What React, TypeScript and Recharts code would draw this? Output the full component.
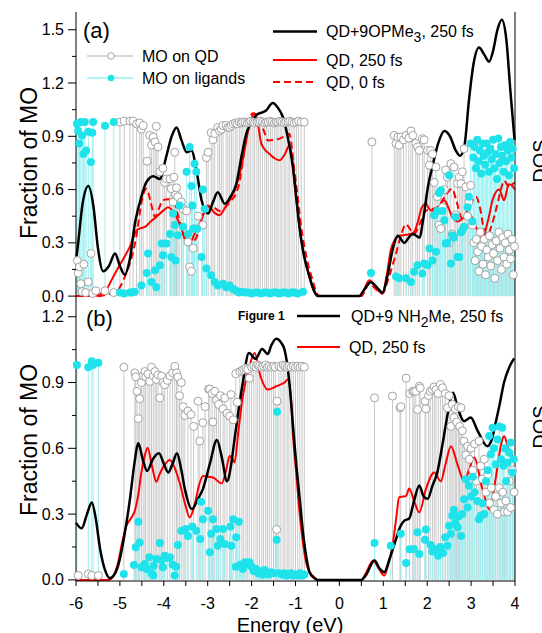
import React from 'react'
import { ComposedChart, Line, Scatter, ErrorBar, XAxis, YAxis } from 'recharts'

type Pt = [number, number]

// ---- axes ----
const X_TICKS = [-6, -5.5, -5, -4.5, -4, -3.5, -3, -2.5, -2, -1.5, -1, -0.5, 0, 0.5, 1, 1.5, 2, 2.5, 3, 3.5, 4]
const X_LABELS = [-6, -5, -4, -3, -2, -1, 0, 1, 2, 3, 4]
const Y_TICKS_A = [0, 0.15, 0.3, 0.45, 0.6, 0.75, 0.9, 1.05, 1.2, 1.35, 1.5]
const Y_LABELS_A = [0, 0.3, 0.6, 0.9, 1.2, 1.5]
const Y_TICKS_B = [0, 0.15, 0.3, 0.45, 0.6, 0.75, 0.9, 1.05, 1.2]
const Y_LABELS_B = [0, 0.3, 0.6, 0.9, 1.2]

// ---- panel (a): QD + 9 OPMe3 ----
const QD_A: Pt[] = [
  [-5.97, 0.2], [-5.95, 0.13], [-5.92, 0.165], [-5.89, 0.07], [-5.86, 0.025], [-5.82, 0.18], [-5.78, 0.02],
  [-5.72, 0.08], [-5.66, 0.24], [-5.62, 0.015], [-5.55, 0.03], [-5.34, 0.03], [-5.14, 0.02],
  [-5.0, 0.98], [-4.9, 0.985], [-4.77, 0.986], [-4.7, 0.986], [-4.62, 0.97], [-4.55, 0.975], [-4.51, 0.94],
  [-4.47, 0.96], [-4.38, 0.76], [-4.32, 0.905], [-4.28, 0.85], [-4.24, 0.896], [-4.2, 0.868], [-4.17, 0.956],
  [-4.13, 0.84], [-4.09, 0.7], [-4.02, 0.72], [-3.98, 0.64], [-3.94, 0.66], [-3.86, 0.66], [-3.83, 0.605],
  [-3.79, 0.53], [-3.77, 0.67], [-3.75, 0.81], [-3.73, 0.57], [-3.71, 0.61], [-3.68, 0.56], [-3.6, 0.53],
  [-3.56, 0.49], [-3.48, 0.48], [-3.45, 0.305], [-3.41, 0.165], [-3.37, 0.14], [-3.33, 0.27], [-3.3, 0.38],
  [-3.22, 0.45], [-3.11, 0.4], [-3.03, 0.78], [-2.99, 0.81], [-2.92, 0.92], [-2.88, 0.88], [-2.84, 0.915],
  [-2.77, 0.95], [-2.73, 0.93], [-2.69, 0.94], [-2.65, 0.96], [-2.58, 0.96], [-2.54, 0.95], [-2.5, 0.95],
  [-2.46, 0.96], [-2.42, 0.97], [-2.37, 0.975], [-2.33, 0.97], [-2.28, 0.98], [-2.24, 0.975], [-2.2, 0.98],
  [-2.15, 0.98], [-2.1, 0.975], [-2.06, 0.98], [-2.02, 0.985], [-1.97, 0.98], [-1.93, 0.975], [-1.88, 0.98],
  [-1.84, 0.98], [-1.8, 0.985], [-1.75, 0.98], [-1.7, 0.975], [-1.66, 0.98], [-1.62, 0.98], [-1.57, 0.985],
  [-1.53, 0.98], [-1.48, 0.975], [-1.44, 0.98], [-1.4, 0.98], [-1.35, 0.985], [-1.31, 0.98], [-1.26, 0.975],
  [-1.22, 0.98], [-1.17, 0.98], [-1.13, 0.985], [-1.08, 0.98], [-1.03, 0.975], [-0.98, 0.98], [-0.93, 0.985],
  [-0.87, 0.98], [-0.8, 0.98],
  [0.74, 0.868], [1.25, 0.905], [1.29, 0.86], [1.33, 0.896], [1.36, 0.85], [1.4, 0.896], [1.46, 0.88],
  [1.52, 0.905], [1.58, 0.89], [1.63, 0.93], [1.67, 0.905], [1.74, 0.86], [1.78, 0.84], [1.82, 0.82],
  [1.89, 0.887], [1.93, 0.88], [2.01, 0.82], [2.05, 0.737], [2.08, 0.82], [2.12, 0.8], [2.16, 0.64],
  [2.2, 0.727], [2.23, 0.56], [2.27, 0.4], [2.31, 0.38], [2.35, 0.5], [2.39, 0.6], [2.42, 0.71], [2.46, 0.67],
  [2.5, 0.3], [2.54, 0.746], [2.57, 0.35], [2.61, 0.727], [2.65, 0.456], [2.69, 0.634], [2.73, 0.67],
  [2.77, 0.634], [2.8, 0.7], [2.84, 0.83], [2.88, 0.615], [2.92, 0.45], [2.95, 0.53], [2.99, 0.624],
  [3.03, 0.4], [3.06, 0.3], [3.09, 0.2], [3.12, 0.32], [3.15, 0.25], [3.18, 0.14], [3.21, 0.36], [3.24, 0.28],
  [3.27, 0.18], [3.3, 0.32], [3.33, 0.12], [3.36, 0.26], [3.39, 0.22], [3.42, 0.34], [3.45, 0.17], [3.48, 0.29],
  [3.51, 0.24], [3.54, 0.1], [3.57, 0.31], [3.6, 0.2], [3.63, 0.36], [3.66, 0.27], [3.69, 0.15], [3.72, 0.33],
  [3.75, 0.22], [3.78, 0.3], [3.81, 0.18], [3.84, 0.35], [3.87, 0.26], [3.9, 0.21], [3.93, 0.32], [3.96, 0.12],
  [3.99, 0.28],
]

const LIG_A: Pt[] = [
  [-5.98, 0.97], [-5.95, 0.93], [-5.92, 0.86], [-5.89, 0.98], [-5.86, 0.905], [-5.83, 0.8], [-5.8, 0.98],
  [-5.77, 0.82], [-5.72, 0.925], [-5.66, 0.755], [-5.63, 0.92], [-5.61, 0.98], [-5.34, 0.96], [-5.14, 0.98],
  [-5.0, 0.02], [-4.9, 0.015], [-4.77, 0.02], [-4.73, 0.02], [-4.66, 0.025], [-4.51, 0.06], [-4.39, 0.13],
  [-4.36, 0.24], [-4.28, 0.08], [-4.2, 0.146], [-4.17, 0.05], [-4.09, 0.174], [-4.05, 0.296], [-4.02, 0.23],
  [-3.94, 0.296], [-3.86, 0.35], [-3.83, 0.22], [-3.79, 0.465], [-3.75, 0.4], [-3.73, 0.2], [-3.68, 0.343],
  [-3.64, 0.51], [-3.56, 0.39], [-3.48, 0.7], [-3.45, 0.35], [-3.41, 0.84], [-3.37, 0.62], [-3.35, 0.51],
  [-3.33, 0.38], [-3.3, 0.746], [-3.26, 0.7], [-3.24, 0.38], [-3.14, 0.22], [-3.11, 0.6], [-3.07, 0.49],
  [-3.03, 0.156], [-2.92, 0.118], [-2.84, 0.08], [-2.77, 0.06], [-2.65, 0.07], [-2.58, 0.05], [-2.5, 0.06],
  [-2.42, 0.04], [-2.35, 0.03], [-2.28, 0.02], [-2.21, 0.025], [-2.14, 0.02], [-2.07, 0.02], [-2.0, 0.015],
  [-1.93, 0.02], [-1.86, 0.02], [-1.79, 0.015], [-1.72, 0.02], [-1.65, 0.02], [-1.58, 0.015], [-1.51, 0.02],
  [-1.44, 0.02], [-1.37, 0.015], [-1.3, 0.02], [-1.23, 0.02], [-1.16, 0.015], [-1.09, 0.02], [-1.02, 0.02],
  [-0.95, 0.015], [-0.83, 0.024],
  [0.72, 0.13], [1.29, 0.11], [1.36, 0.1], [1.52, 0.1], [1.63, 0.08], [1.7, 0.137], [1.78, 0.174], [1.89, 0.128],
  [1.93, 0.184], [2.01, 0.174], [2.05, 0.268], [2.12, 0.2], [2.16, 0.456], [2.2, 0.25], [2.23, 0.48],
  [2.27, 0.58], [2.31, 0.596], [2.35, 0.48], [2.39, 0.427], [2.42, 0.296], [2.46, 0.3], [2.5, 0.68],
  [2.54, 0.184], [2.57, 0.343], [2.61, 0.33], [2.65, 0.446], [2.69, 0.22], [2.73, 0.22], [2.77, 0.36],
  [2.8, 0.37], [2.84, 0.39], [2.92, 0.5], [2.95, 0.56], [2.99, 0.86],
  [3.03, 0.42], [3.05, 0.78], [3.08, 0.84], [3.11, 0.72], [3.14, 0.88], [3.17, 0.76], [3.2, 0.82], [3.23, 0.69],
  [3.26, 0.86], [3.29, 0.79], [3.32, 0.74], [3.35, 0.86], [3.38, 0.81], [3.41, 0.7], [3.44, 0.83], [3.47, 0.77],
  [3.5, 0.88], [3.53, 0.72], [3.56, 0.8], [3.59, 0.66], [3.62, 0.887], [3.65, 0.75], [3.68, 0.84], [3.71, 0.79],
  [3.74, 0.7], [3.77, 0.85], [3.8, 0.76], [3.83, 0.82], [3.86, 0.68], [3.89, 0.868], [3.92, 0.78], [3.95, 0.83],
  [3.98, 0.72],
]

const DOS_A_LIG: Pt[] = [
  [-6.0, 0.2], [-5.95, 0.3], [-5.85, 0.52], [-5.72, 0.62], [-5.6, 0.5], [-5.5, 0.27], [-5.38, 0.14], [-5.25, 0.17],
  [-5.11, 0.24], [-5.0, 0.17], [-4.89, 0.12], [-4.78, 0.2], [-4.65, 0.42], [-4.51, 0.56], [-4.4, 0.64],
  [-4.24, 0.675], [-4.09, 0.66], [-3.95, 0.78], [-3.82, 0.9], [-3.71, 0.95], [-3.6, 0.88], [-3.48, 0.81],
  [-3.37, 0.82], [-3.25, 0.7], [-3.14, 0.54], [-2.99, 0.465], [-2.88, 0.53], [-2.77, 0.585], [-2.61, 0.52],
  [-2.48, 0.56], [-2.35, 0.63], [-2.22, 0.8], [-2.12, 0.915], [-2.0, 0.98], [-1.89, 1.02], [-1.67, 1.045],
  [-1.52, 1.087], [-1.4, 1.06], [-1.29, 1.01], [-1.18, 0.9], [-1.06, 0.73], [-0.91, 0.39], [-0.8, 0.22],
  [-0.68, 0.11], [-0.58, 0.03], [-0.49, 0], [0.0, 0], [0.45, 0], [0.55, 0.03], [0.72, 0.08], [0.85, 0.05],
  [0.98, 0.02], [1.1, 0.12], [1.22, 0.27], [1.33, 0.34], [1.48, 0.3], [1.58, 0.33], [1.67, 0.35], [1.75, 0.34],
  [1.82, 0.33], [1.92, 0.45], [2.02, 0.62], [2.12, 0.73], [2.25, 0.86], [2.39, 0.93], [2.52, 0.9], [2.65, 0.82],
  [2.75, 0.79], [2.85, 0.85], [2.95, 1.1], [3.05, 1.3], [3.18, 1.4], [3.3, 1.36], [3.41, 1.32], [3.5, 1.38],
  [3.6, 1.5], [3.7, 1.556], [3.8, 1.45], [3.9, 1.14], [3.99, 0.88],
]

const DOS_A_QD250: Pt[] = [
  [-6.0, 0], [-5.6, 0], [-5.45, 0.01], [-5.3, 0.04], [-5.17, 0.1], [-5.07, 0.146], [-4.92, 0.21], [-4.77, 0.28],
  [-4.62, 0.37], [-4.5, 0.385], [-4.43, 0.39], [-4.3, 0.42], [-4.17, 0.446], [-4.02, 0.48], [-3.9, 0.5],
  [-3.8, 0.48], [-3.71, 0.446], [-3.55, 0.35], [-3.41, 0.3], [-3.3, 0.35], [-3.18, 0.41], [-3.08, 0.47],
  [-2.99, 0.51], [-2.85, 0.47], [-2.73, 0.456], [-2.6, 0.5], [-2.5, 0.54], [-2.38, 0.6], [-2.27, 0.69],
  [-2.16, 0.82], [-2.08, 0.93], [-1.99, 1.01], [-1.93, 1.03], [-1.85, 0.96], [-1.78, 0.86], [-1.68, 0.82],
  [-1.59, 0.8], [-1.47, 0.775], [-1.36, 0.765], [-1.24, 0.8], [-1.14, 0.85], [-1.08, 0.78], [-1.02, 0.63],
  [-0.94, 0.46], [-0.87, 0.315], [-0.75, 0.17], [-0.64, 0.07], [-0.55, 0.02], [-0.48, 0], [0.0, 0], [0.45, 0],
  [0.55, 0.03], [0.68, 0.09], [0.82, 0.05], [0.98, 0.015], [1.08, 0.12], [1.17, 0.26], [1.27, 0.32],
  [1.36, 0.34], [1.52, 0.345], [1.62, 0.35], [1.7, 0.36], [1.8, 0.43], [1.88, 0.5], [1.97, 0.52], [2.05, 0.49],
  [2.12, 0.48], [2.25, 0.5], [2.39, 0.54], [2.48, 0.5], [2.57, 0.446], [2.7, 0.42], [2.82, 0.44], [2.95, 0.465],
  [3.08, 0.41], [3.18, 0.35], [3.26, 0.33], [3.38, 0.42], [3.5, 0.55], [3.64, 0.6], [3.75, 0.54], [3.86, 0.63],
  [3.94, 0.62], [4.0, 0.6],
]

const DOS_A_QD0: Pt[] = [
  [-6.0, 0], [-5.5, 0], [-5.3, 0.01], [-5.15, 0.02], [-5.0, 0.05], [-4.87, 0.12], [-4.73, 0.22], [-4.63, 0.33],
  [-4.55, 0.465], [-4.47, 0.57], [-4.39, 0.605], [-4.3, 0.53], [-4.2, 0.446], [-4.1, 0.5], [-4.02, 0.54],
  [-3.9, 0.545], [-3.79, 0.54], [-3.68, 0.46], [-3.55, 0.34], [-3.45, 0.287], [-3.35, 0.3], [-3.26, 0.33],
  [-3.15, 0.42], [-3.03, 0.5], [-2.88, 0.5], [-2.73, 0.48], [-2.6, 0.5], [-2.46, 0.54], [-2.35, 0.58],
  [-2.27, 0.65], [-2.2, 0.76], [-2.12, 0.9], [-2.05, 0.99], [-1.98, 1.03], [-1.9, 1.02], [-1.82, 0.99],
  [-1.72, 0.93], [-1.63, 0.877], [-1.5, 0.88], [-1.36, 0.887], [-1.25, 0.9], [-1.14, 0.915], [-1.1, 0.87],
  [-1.06, 0.78], [-0.96, 0.58], [-0.87, 0.39], [-0.75, 0.22], [-0.61, 0.09], [-0.52, 0.02], [-0.45, 0],
  [0.0, 0], [0.5, 0], [0.58, 0.03], [0.68, 0.075], [0.82, 0.04], [0.98, 0.015], [1.12, 0.1], [1.22, 0.18],
  [1.29, 0.24], [1.4, 0.34], [1.52, 0.405], [1.6, 0.38], [1.7, 0.35], [1.82, 0.4], [1.97, 0.48], [2.1, 0.49],
  [2.23, 0.5], [2.4, 0.56], [2.57, 0.605], [2.66, 0.54], [2.8, 0.437], [2.95, 0.5], [3.11, 0.56], [3.2, 0.5],
  [3.28, 0.39], [3.37, 0.343], [3.47, 0.4], [3.56, 0.48], [3.66, 0.58], [3.75, 0.65], [3.86, 0.615],
  [3.94, 0.63], [4.0, 0.64],
]

// ---- panel (b): QD + 9 NH2Me ----
const QD_B: Pt[] = [
  [-5.95, 0.02], [-5.72, 0.027], [-5.64, 0.02], [-5.49, 0.02],
  [-4.91, 0.97], [-4.66, 0.944], [-4.64, 0.926], [-4.61, 0.86], [-4.58, 0.735], [-4.55, 0.826], [-4.51, 0.9],
  [-4.47, 0.93], [-4.43, 0.95], [-4.41, 0.926], [-4.36, 0.94], [-4.32, 0.905], [-4.28, 0.97], [-4.24, 0.93],
  [-4.2, 0.95], [-4.17, 0.914], [-4.13, 0.935], [-4.09, 0.83], [-4.05, 0.93], [-4.02, 0.9], [-3.98, 0.89],
  [-3.92, 0.91], [-3.86, 0.93], [-3.8, 0.945], [-3.75, 0.974], [-3.71, 0.944], [-3.68, 0.925], [-3.64, 0.84],
  [-3.6, 0.9], [-3.56, 0.79], [-3.52, 0.75], [-3.45, 0.77], [-3.38, 0.754], [-3.32, 0.7], [-3.22, 0.815],
  [-3.18, 0.633], [-3.11, 0.717], [-3.06, 0.79], [-2.98, 0.87], [-2.95, 0.87], [-2.9, 0.85], [-2.88, 0.72],
  [-2.84, 0.86], [-2.8, 0.82], [-2.75, 0.8], [-2.71, 0.84], [-2.65, 0.78], [-2.61, 0.83], [-2.56, 0.76],
  [-2.5, 0.747], [-2.47, 0.845], [-2.42, 0.73], [-2.36, 0.94], [-2.33, 0.81], [-2.27, 0.95], [-2.22, 0.955],
  [-2.18, 0.96], [-2.13, 0.965], [-2.09, 0.96], [-2.05, 0.92], [-2.0, 0.97], [-1.95, 0.975], [-1.9, 0.97],
  [-1.86, 0.98], [-1.82, 0.975], [-1.77, 0.97], [-1.73, 0.975], [-1.68, 0.98], [-1.64, 0.97], [-1.6, 0.975],
  [-1.55, 0.97], [-1.5, 0.975], [-1.46, 0.97], [-1.43, 0.23], [-1.42, 0.815], [-1.38, 0.975], [-1.33, 0.97],
  [-1.28, 0.98], [-1.24, 0.975], [-1.19, 0.97], [-1.15, 0.975], [-1.1, 0.97], [-1.05, 0.975], [-1.0, 0.97],
  [-0.95, 0.975], [-0.9, 0.97], [-0.85, 0.975], [-0.8, 0.97],
  [0.8, 0.83], [1.21, 0.838], [1.38, 0.785], [1.4, 0.79], [1.52, 0.92], [1.6, 0.85], [1.67, 0.86], [1.7, 0.86],
  [1.74, 0.86], [1.78, 0.777], [1.82, 0.883], [1.84, 0.875], [1.95, 0.815], [1.97, 0.78], [2.03, 0.84],
  [2.07, 0.86], [2.12, 0.868], [2.16, 0.88], [2.2, 0.868], [2.25, 0.85], [2.3, 0.89], [2.35, 0.876],
  [2.41, 0.85], [2.46, 0.785], [2.5, 0.84], [2.54, 0.7], [2.57, 0.8], [2.61, 0.74], [2.64, 0.78], [2.67, 0.72],
  [2.71, 0.79], [2.74, 0.7], [2.77, 0.785], [2.8, 0.68], [2.84, 0.633], [2.88, 0.57], [2.92, 0.61], [2.96, 0.55],
  [3.0, 0.6], [3.04, 0.5], [3.08, 0.62], [3.12, 0.45], [3.18, 0.633], [3.22, 0.52], [3.26, 0.46], [3.3, 0.55],
  [3.34, 0.4], [3.38, 0.48], [3.42, 0.35], [3.46, 0.42], [3.52, 0.32], [3.56, 0.38], [3.6, 0.3], [3.64, 0.42],
  [3.68, 0.35], [3.72, 0.4], [3.76, 0.31], [3.79, 0.36], [3.83, 0.31], [3.87, 0.45], [3.9, 0.33], [3.94, 0.5],
  [3.98, 0.4],
]

const LIG_B: Pt[] = [
  [-5.98, 0.98], [-5.72, 0.97], [-5.64, 0.997], [-5.61, 0.98], [-5.49, 0.99],
  [-4.91, 0.027], [-4.68, 0.068], [-4.64, 0.149], [-4.58, 0.265], [-4.55, 0.17], [-4.51, 0.058], [-4.43, 0.073],
  [-4.39, 0.05], [-4.33, 0.103], [-4.28, 0.03], [-4.24, 0.02], [-4.23, 0.065], [-4.17, 0.095], [-4.09, 0.168],
  [-4.05, 0.09], [-4.02, 0.058], [-3.98, 0.11], [-3.92, 0.1], [-3.86, 0.103], [-3.8, 0.07], [-3.75, 0.02],
  [-3.72, 0.06], [-3.68, 0.159], [-3.6, 0.224], [-3.5, 0.232], [-3.45, 0.2], [-3.35, 0.244], [-3.26, 0.224],
  [-3.17, 0.186], [-3.15, 0.356], [-3.11, 0.277], [-2.99, 0.315], [-2.95, 0.126], [-2.92, 0.21], [-2.88, 0.277],
  [-2.8, 0.232], [-2.77, 0.156], [-2.71, 0.186], [-2.65, 0.232], [-2.61, 0.164], [-2.48, 0.244], [-2.46, 0.156],
  [-2.42, 0.277], [-2.36, 0.06], [-2.35, 0.194], [-2.29, 0.265], [-2.25, 0.07], [-2.2, 0.05], [-2.15, 0.08],
  [-2.1, 0.07], [-2.05, 0.08], [-2.0, 0.06], [-1.95, 0.04], [-1.9, 0.05], [-1.85, 0.03], [-1.8, 0.04],
  [-1.75, 0.025], [-1.7, 0.045], [-1.65, 0.03], [-1.6, 0.025], [-1.55, 0.035], [-1.5, 0.03], [-1.43, 0.183],
  [-1.42, 0.767], [-1.38, 0.03], [-1.3, 0.025], [-1.25, 0.03], [-1.2, 0.02], [-1.15, 0.025], [-1.1, 0.03],
  [-1.05, 0.02], [-1.0, 0.025], [-0.95, 0.02], [-0.9, 0.03], [-0.85, 0.02], [-0.8, 0.025],
  [0.8, 0.168], [1.17, 0.156], [1.4, 0.21], [1.52, 0.077], [1.6, 0.14], [1.7, 0.141], [1.78, 0.217],
  [1.82, 0.118], [1.95, 0.183], [1.97, 0.23], [2.08, 0.159], [2.12, 0.13], [2.2, 0.14], [2.25, 0.11], [2.3, 0.15],
  [2.36, 0.123], [2.41, 0.194], [2.46, 0.156], [2.5, 0.247], [2.54, 0.21], [2.57, 0.292], [2.61, 0.32],
  [2.64, 0.26], [2.69, 0.24], [2.72, 0.29], [2.77, 0.2], [2.8, 0.3], [2.84, 0.368], [2.88, 0.459], [2.92, 0.33],
  [2.95, 0.429], [3.0, 0.38], [3.04, 0.47], [3.08, 0.4], [3.14, 0.36], [3.18, 0.277], [3.22, 0.292], [3.26, 0.35],
  [3.3, 0.3], [3.34, 0.45], [3.38, 0.5], [3.41, 0.656], [3.45, 0.573], [3.49, 0.694], [3.52, 0.6], [3.56, 0.527],
  [3.6, 0.64], [3.64, 0.7], [3.68, 0.55], [3.71, 0.694], [3.74, 0.52], [3.77, 0.6], [3.8, 0.45], [3.83, 0.535],
  [3.87, 0.58], [3.9, 0.626], [3.94, 0.49], [3.97, 0.55],
]

const DOS_B_LIG: Pt[] = [
  [-6.0, 0.26], [-5.87, 0.235], [-5.75, 0.3], [-5.64, 0.353], [-5.55, 0.28], [-5.45, 0.14], [-5.33, 0.04],
  [-5.23, 0.008], [-5.14, 0.02], [-5.04, 0.065], [-4.9, 0.2], [-4.77, 0.37], [-4.67, 0.53], [-4.58, 0.623],
  [-4.48, 0.55], [-4.38, 0.497], [-4.25, 0.55], [-4.11, 0.577], [-4.0, 0.53], [-3.9, 0.49], [-3.8, 0.53],
  [-3.7, 0.577], [-3.6, 0.5], [-3.52, 0.414], [-3.36, 0.323], [-3.22, 0.37], [-3.11, 0.414], [-2.95, 0.53],
  [-2.79, 0.638], [-2.68, 0.56], [-2.56, 0.45], [-2.47, 0.52], [-2.39, 0.64], [-2.3, 0.77], [-2.2, 0.9],
  [-2.06, 1.035], [-1.91, 1.008], [-1.76, 1.053], [-1.63, 1.03], [-1.55, 1.07], [-1.44, 1.1], [-1.32, 1.08],
  [-1.25, 1.05], [-1.14, 0.9], [-1.06, 0.71], [-0.98, 0.52], [-0.9, 0.36], [-0.83, 0.217], [-0.75, 0.1],
  [-0.68, 0.035], [-0.57, 0.008], [-0.5, 0], [0.0, 0], [0.5, 0], [0.6, 0.02], [0.8, 0.088], [0.92, 0.05],
  [1.02, 0.035], [1.15, 0.1], [1.29, 0.186], [1.38, 0.24], [1.48, 0.27], [1.59, 0.28], [1.7, 0.36], [1.82, 0.43],
  [1.92, 0.38], [2.01, 0.37], [2.12, 0.43], [2.23, 0.49], [2.35, 0.62], [2.48, 0.77], [2.59, 0.853], [2.7, 0.78],
  [2.84, 0.724], [2.99, 0.74], [3.15, 0.68], [3.37, 0.61], [3.47, 0.64], [3.56, 0.717], [3.65, 0.8], [3.75, 0.9],
  [3.87, 0.97], [3.98, 1.01],
]

const DOS_B_QD250: Pt[] = [
  [-6.0, 0], [-5.3, 0], [-5.2, 0.005], [-5.1, 0.04], [-5.04, 0.08], [-4.95, 0.17], [-4.85, 0.247], [-4.75, 0.28],
  [-4.66, 0.315], [-4.58, 0.39], [-4.51, 0.49], [-4.44, 0.56], [-4.37, 0.603], [-4.27, 0.52], [-4.17, 0.447],
  [-4.1, 0.48], [-4.02, 0.512], [-3.86, 0.547], [-3.75, 0.51], [-3.64, 0.444], [-3.52, 0.35], [-3.41, 0.285],
  [-3.3, 0.34], [-3.2, 0.43], [-3.11, 0.474], [-2.98, 0.47], [-2.88, 0.467], [-2.68, 0.44], [-2.58, 0.5],
  [-2.5, 0.565], [-2.43, 0.55], [-2.39, 0.535], [-2.3, 0.68], [-2.2, 0.838], [-2.05, 0.974], [-1.93, 1.035],
  [-1.8, 0.93], [-1.63, 0.868], [-1.44, 0.883], [-1.25, 0.9], [-1.17, 0.914], [-1.1, 0.82], [-1.06, 0.67],
  [-0.98, 0.48], [-0.91, 0.31], [-0.83, 0.17], [-0.76, 0.08], [-0.66, 0.03], [-0.57, 0.012], [-0.5, 0], [0.0, 0],
  [0.5, 0], [0.6, 0.03], [0.77, 0.088], [0.9, 0.05], [1.02, 0.02], [1.1, 0.06], [1.21, 0.156], [1.3, 0.29],
  [1.36, 0.376], [1.45, 0.38], [1.52, 0.383], [1.59, 0.417], [1.7, 0.36], [1.82, 0.308], [1.97, 0.414],
  [2.16, 0.49], [2.31, 0.45], [2.42, 0.53], [2.54, 0.61], [2.7, 0.52], [2.84, 0.45], [2.95, 0.5], [3.07, 0.558],
  [3.25, 0.42], [3.43, 0.32], [3.55, 0.45], [3.71, 0.64], [3.75, 0.656], [3.85, 0.6], [3.98, 0.55],
]

const FONT = "'Liberation Sans', Arial, sans-serif"
const GREY_STEM = '#c9c9c9'
const GREY_RING = '#a3a3a3'
const CYAN_STEM = '#9af1f3'
const CYAN_DOT = '#1fe2ea'

const rows = (pts: Pt[]) => pts.map(([e, v]) => ({ e, v, stem: [v, 0] }))

const near = (list: number[], v: number) => list.some((m) => Math.abs(m - v) < 1e-6)

const yTick = (labels: number[]) => (p: any) => {
  const v = p.payload.value
  const major = near(labels, v)
  return (
    <g>
      <line x1={p.x} x2={p.x - (major ? 8 : 4)} y1={p.y} y2={p.y} stroke="#000" />
      {major && (
        <text x={p.x - 12} y={p.y} dy={5.5} textAnchor="end" fontSize={16} fill="#000">
          {v.toFixed(1)}
        </text>
      )}
    </g>
  )
}

const xTickBottom = (p: any) => {
  const v = p.payload.value
  const major = near(X_LABELS, v)
  return (
    <g>
      <line x1={p.x} x2={p.x} y1={p.y} y2={p.y + 5} stroke="#000" />
      {major && (
        <text x={p.x} y={p.y + 28} textAnchor="middle" fontSize={16} fill="#000">
          {String(v)}
        </text>
      )}
    </g>
  )
}

const xTickInner = (p: any) => {
  const major = near(X_LABELS, p.payload.value)
  return <line x1={p.x} x2={p.x} y1={p.y} y2={p.y + (major ? 8 : 4)} stroke="#000" />
}

const ring = (p: any) => <circle cx={p.cx} cy={p.cy} r={4} fill="#fff" stroke={GREY_RING} strokeWidth={1} />
const dot = (p: any) => <circle cx={p.cx} cy={p.cy} r={4} fill={CYAN_DOT} />
const none = () => <g />

type Curve = { pts: Pt[]; color: string; width: number; dash?: string }

function panel(o: {
  qd: Pt[]; lig: Pt[]; curves: Curve[]; yMax: number; yTicks: number[]; yLabels: number[]
  height: number; margin: { top: number; right: number; bottom: number; left: number }; bottom: boolean
}) {
  const dom: [number, number] = [-0.005, o.yMax]
  const qd = rows(o.qd)
  const lig = rows(o.lig)
  return (
    <ComposedChart width={542} height={o.height} margin={o.margin}>
      <XAxis
        xAxisId="b" dataKey="e" type="number" domain={[-6, 4]} ticks={X_TICKS} interval={0}
        hide={!o.bottom} height={52} tickSize={0} tickMargin={0} tickLine={false}
        tick={xTickBottom} axisLine={{ stroke: '#000' }}
      />
      <XAxis
        xAxisId="t" orientation="top" type="number" domain={[-6, 4]} ticks={X_TICKS} interval={0}
        height={0} tickSize={0} tickMargin={0} tickLine={false}
        tick={o.bottom ? xTickInner : false} axisLine={{ stroke: '#000' }}
      />
      <YAxis
        yAxisId="frac" dataKey="v" type="number" domain={dom} ticks={o.yTicks} interval={0} width={76}
        tickSize={0} tickMargin={0} tickLine={false} tick={yTick(o.yLabels)} axisLine={{ stroke: '#000' }}
      />
      <YAxis
        yAxisId="dos" orientation="right" type="number" domain={dom} width={27}
        tick={false} tickLine={false} axisLine={{ stroke: '#000' }}
      />
      <Scatter data={qd} xAxisId="b" yAxisId="frac" shape={none} isAnimationActive={false}>
        <ErrorBar dataKey="stem" direction="y" width={0} stroke={GREY_STEM} strokeWidth={1} isAnimationActive={false} />
      </Scatter>
      <Scatter data={lig} xAxisId="b" yAxisId="frac" shape={none} isAnimationActive={false}>
        <ErrorBar dataKey="stem" direction="y" width={0} stroke={CYAN_STEM} strokeWidth={1} isAnimationActive={false} />
      </Scatter>
      <Scatter data={qd} xAxisId="b" yAxisId="frac" shape={ring} isAnimationActive={false} />
      <Scatter data={lig} xAxisId="b" yAxisId="frac" shape={dot} isAnimationActive={false} />
      {o.curves.map((c, i) => (
        <Line
          key={i} data={rows(c.pts)} dataKey="v" xAxisId="b" yAxisId="dos" type="monotone"
          stroke={c.color} strokeWidth={c.width} strokeDasharray={c.dash} dot={false}
          activeDot={false} isAnimationActive={false}
        />
      ))}
    </ComposedChart>
  )
}

export default function App() {
  const txt = { fontFamily: FONT, fill: '#000' }
  return (
    <div style={{ position: 'absolute', left: 0, top: 0, width: 542, height: 633, overflow: 'hidden', background: '#fff', fontFamily: FONT }}>
      <div style={{ position: 'absolute', left: 0, top: 0 }}>
        {panel({
          qd: QD_A, lig: LIG_A, yMax: 1.6, yTicks: Y_TICKS_A, yLabels: Y_LABELS_A,
          height: 312, margin: { top: 12, right: 0, bottom: 15, left: 0 }, bottom: false,
          curves: [
            { pts: DOS_A_QD0, color: '#ff0000', width: 2, dash: '7 4' },
            { pts: DOS_A_QD250, color: '#ff0000', width: 2 },
            { pts: DOS_A_LIG, color: '#000000', width: 2.5 },
          ],
        })}
      </div>
      <div style={{ position: 'absolute', left: 0, top: 292 }}>
        {panel({
          qd: QD_B, lig: LIG_B, yMax: 1.29, yTicks: Y_TICKS_B, yLabels: Y_LABELS_B,
          height: 341, margin: { top: 5, right: 0, bottom: 0, left: 0 }, bottom: true,
          curves: [
            { pts: DOS_B_QD250, color: '#ff0000', width: 2 },
            { pts: DOS_B_LIG, color: '#000000', width: 2.5 },
          ],
        })}
      </div>
      <svg width={542} height={633} style={{ position: 'absolute', left: 0, top: 0, pointerEvents: 'none' }}>
        {/* panel labels */}
        <text x={83} y={38} fontSize={22} {...txt}>(a)</text>
        <text x={86} y={326} fontSize={22} {...txt}>(b)</text>

        {/* legend (a), left */}
        <line x1={87} x2={133} y1={56} y2={56} stroke={GREY_STEM} strokeWidth={1.5} />
        <circle cx={111} cy={56} r={3.3} fill="#fff" stroke={GREY_RING} />
        <text x={142} y={62} fontSize={16} {...txt}>MO on QD</text>
        <line x1={87} x2={133} y1={78} y2={78} stroke={CYAN_STEM} strokeWidth={1.5} />
        <circle cx={111} cy={78} r={3.3} fill={CYAN_DOT} />
        <text x={142} y={84} fontSize={16} {...txt}>MO on ligands</text>

        {/* legend (a), right */}
        <line x1={273} x2={317} y1={31.5} y2={31.5} stroke="#000" strokeWidth={2.5} />
        <text x={326} y={37} fontSize={16} {...txt}>
          QD+9OPMe<tspan fontSize={14} dy={5}>3</tspan><tspan dy={-5}>, 250 fs</tspan>
        </text>
        <line x1={273} x2={317} y1={60} y2={60} stroke="#ff0000" strokeWidth={2} />
        <text x={326} y={66} fontSize={16} {...txt}>QD, 250 fs</text>
        <line x1={273} x2={317} y1={82} y2={82} stroke="#ff0000" strokeWidth={2} strokeDasharray="7 4" />
        <text x={326} y={88} fontSize={16} {...txt}>QD, 0 fs</text>

        {/* legend (b) */}
        <text x={238} y={320} fontSize={12} fontWeight="bold" {...txt}>Figure 1</text>
        <line x1={297} x2={340} y1={316} y2={316} stroke="#000" strokeWidth={2.5} />
        <text x={351} y={322} fontSize={16} {...txt}>
          QD+9 NH<tspan fontSize={14} dy={5}>2</tspan><tspan dy={-5}>Me, 250 fs</tspan>
        </text>
        <line x1={297} x2={340} y1={347} y2={347} stroke="#ff0000" strokeWidth={2} />
        <text x={349} y={353} fontSize={16} {...txt}>QD, 250 fs</text>

        {/* axis titles */}
        <text transform="translate(37,163) rotate(-90)" textAnchor="middle" fontSize={23} {...txt}>Fraction of MO</text>
        <text transform="translate(37,440) rotate(-90)" textAnchor="middle" fontSize={23} {...txt}>Fraction of MO</text>
        <text transform="translate(547,161) rotate(-90)" textAnchor="middle" fontSize={20} {...txt}>DOS</text>
        <text transform="translate(547,427) rotate(-90)" textAnchor="middle" fontSize={20} {...txt}>DOS</text>
        <text x={290} y={632} textAnchor="middle" fontSize={20} {...txt}>Energy (eV)</text>
      </svg>
    </div>
  )
}
